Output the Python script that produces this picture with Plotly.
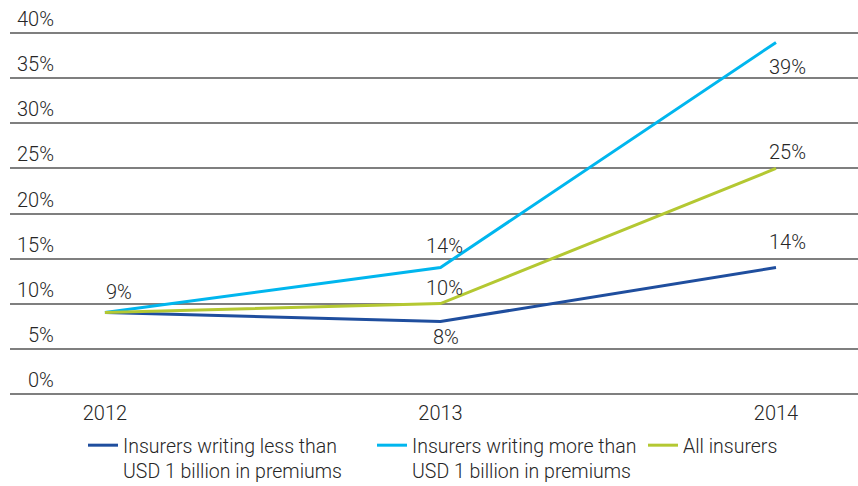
import plotly.graph_objects as go

years = [2012, 2013, 2014]
less_1bn = [9, 8, 14]
more_1bn = [9, 14, 39]
all_ins = [9, 10, 25]
y_ticks = [0, 5, 10, 15, 20, 25, 30, 35, 40]

names = ["Insurers writing less than<br>USD 1 billion in premiums",
         "Insurers writing more than<br>USD 1 billion in premiums",
         "All insurers"]
colors = ["#1F4E9E", "#00B6EE", "#B4C832"]
series = [less_1bn, more_1bn, all_ins]
legend_ids = ["legend", "legend2", "legend3"]
legend_px = [83, 372, 643]

FONT = "Roboto"
TXT = "#262626"
W, H = 858, 486
PAD = 0.6
L, R, T, B = 10, 0, 27.6, 86.6
PW, PH = W - L - R, H - T - B

fig = go.Figure()
for nm, col, vals, lg in zip(names, colors, series, legend_ids):
    fig.add_trace(go.Scatter(x=years, y=vals, mode="lines", name=nm, legend=lg,
                             line=dict(color=col, width=3), cliponaxis=False,
                             hoverinfo="skip"))

# data labels: (series index, point index, xshift, yshift)
labels = [(0, 0, 14, 21), (1, 1, 4, 22), (2, 1, 4, 16), (0, 1, 6, -15),
          (1, 2, 11, -25), (2, 2, 11, 16), (0, 2, 11, 26)]
for si, pi, xs, ys in labels:
    fig.add_annotation(x=years[pi], y=series[si][pi], text=f"{series[si][pi]}%",
                       showarrow=False, xanchor="center", yanchor="middle",
                       xshift=xs, yshift=ys,
                       font=dict(family=FONT, size=20, color=TXT, weight=300))

for t in y_ticks:
    fig.add_annotation(xref="paper", x=(56 - L) / PW, y=t, text=f"{t}%",
                       showarrow=False, xanchor="right", yanchor="bottom", yshift=0,
                       font=dict(family=FONT, size=20, color=TXT, weight=300))

legend_common = dict(orientation="h", xref="container", xanchor="left",
                     yref="container", y=1 - 426 / H, yanchor="top", valign="top",
                     font=dict(family=FONT, size=19.5, color=TXT, weight=300),
                     bgcolor="rgba(0,0,0,0)", borderwidth=0)

fig.update_layout(
    width=W, height=H,
    margin=dict(l=L, r=R, t=T, b=B, autoexpand=False),
    paper_bgcolor="white", plot_bgcolor="white",
    font=dict(family=FONT, size=20, color=TXT, weight=300),
    xaxis=dict(range=[2011.717, 2014.2444], tickvals=years, ticktext=[str(y) for y in years],
               showgrid=False, zeroline=False, showline=False, ticks="",
               tickfont=dict(family=FONT, size=20, color=TXT, weight=300)),
    yaxis=dict(range=[-PAD, 40 + PAD], tickvals=y_ticks, showticklabels=False,
               showgrid=True, gridcolor="#7F7F7F", gridwidth=1.5,
               zeroline=False, showline=False, fixedrange=True),
    showlegend=True,
    legend=dict(x=legend_px[0] / W, **legend_common),
    legend2=dict(x=legend_px[1] / W, **legend_common),
    legend3=dict(x=legend_px[2] / W, **legend_common),
)

fig.write_html("out.html", config={"displayModeBar": False},
               post_script="document.body.style.margin='0';")
